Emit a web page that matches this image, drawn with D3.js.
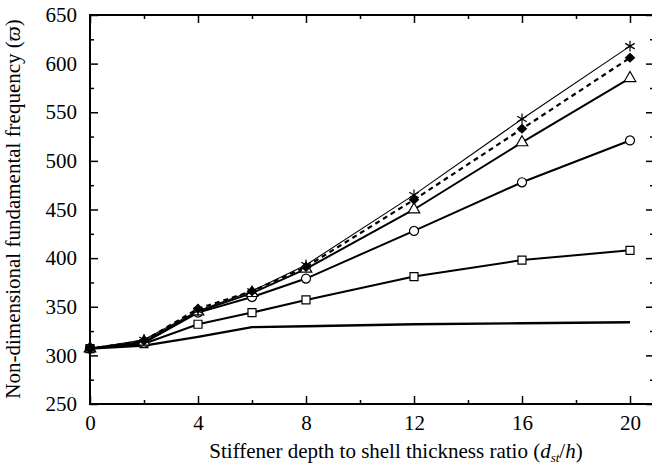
<!DOCTYPE html>
<html><head><meta charset="utf-8">
<script src="https://cdn.jsdelivr.net/npm/d3@7"></script>
<style>body{margin:0;background:#fff}svg{display:block}text{font-family:"Liberation Serif","Times New Roman",serif;fill:#000}</style>
</head><body><svg id="c" width="652" height="474"></svg>
<script>
const xVals = [0, 2, 4, 6, 8, 12, 16, 20];
const plainLine = [307, 310, 319, 329, 330, 332, 333, 334];
const squares   = [307, 312, 332, 344, 357, 381, 398, 408];
const circles   = [307, 313, 344, 360, 379, 428, 478, 521];
const triangles = [307, 314, 345, 364, 389, 450, 519, 585];
const diamonds  = [307, 315, 348, 366, 391, 460, 533, 606];
const asterisks = [307, 316, 346, 366, 393, 465, 543, 618];
const xMajor = [0, 4, 8, 12, 16, 20];
const xMinor = [2, 6, 10, 14, 18];
const yMajor = [250, 300, 350, 400, 450, 500, 550, 600, 650];
const yMinor = [275, 325, 375, 425, 475, 525, 575, 625];

const svg = d3.select("#c");
const L = 90, T = 15, B = 404, R = 654;
const x = d3.scaleLinear().domain([0, 20]).range([L, 630]);
const y = d3.scaleLinear().domain([250, 650]).range([B, T]);

// frame
svg.append("rect").attr("x", L).attr("y", T).attr("width", R - L).attr("height", B - T)
  .attr("fill", "none").attr("stroke", "#000").attr("stroke-width", 2);

function ax(gen, tx, ty, ticks, size, pad, fmt) {
  const g = svg.append("g").attr("transform", `translate(${tx},${ty})`)
    .call(gen.tickValues(ticks).tickSize(size).tickPadding(pad || 0)
      .tickFormat(fmt || (() => "")));
  g.select(".domain").remove();
  g.selectAll(".tick line").attr("stroke", "#000").attr("stroke-width", 1.5);
  g.selectAll("text").style("font-size", "21px").attr("font-family", null);
  return g;
}
ax(d3.axisBottom(x), 0, B, xMajor, -8, 11, d => String(d));
ax(d3.axisBottom(x), 0, B, xMinor, -4);
ax(d3.axisTop(x), 0, T, xMajor, -8);
ax(d3.axisTop(x), 0, T, xMinor, -4);
ax(d3.axisLeft(y), L, 0, yMajor, -8, 13, d => String(d));
ax(d3.axisLeft(y), L, 0, yMinor, -4);
ax(d3.axisRight(y), R, 0, yMajor, -8);
ax(d3.axisRight(y), R, 0, yMinor, -4);

const line = d3.line().x((d, i) => x(xVals[i])).y(d => y(d));
function series(vals, opts) {
  svg.append("path").datum(vals).attr("d", line).attr("fill", "none")
    .attr("stroke", "#000").attr("stroke-width", opts.w)
    .attr("stroke-dasharray", opts.dash || null);
}
series(plainLine, {w: 2.4});
series(squares, {w: 2});
series(circles, {w: 2});
series(triangles, {w: 2});
series(diamonds, {w: 2.2, dash: "5,4"});
series(asterisks, {w: 1.1});

function markers(vals, sym, size, fill) {
  svg.append("g").selectAll("path").data(vals).join("path")
    .attr("transform", (d, i) => `translate(${x(xVals[i])},${y(d)})`)
    .attr("d", d3.symbol().type(sym).size(size))
    .attr("fill", fill).attr("stroke", "#000").attr("stroke-width", 1.2);
}
const asteriskSym = {draw(ctx, size) {
  const r = Math.sqrt(size) / 2;
  for (const a of [90, 30, 150]) {
    const t = a * Math.PI / 180, dx = r * Math.cos(t), dy = r * Math.sin(t);
    ctx.moveTo(-dx, -dy); ctx.lineTo(dx, dy);
  }
}};
const wideDiamond = {draw(ctx, size) {
  const r = Math.sqrt(size) / 2;
  ctx.moveTo(0, -r * 0.95); ctx.lineTo(r, 0); ctx.lineTo(0, r * 0.95); ctx.lineTo(-r, 0); ctx.closePath();
}};
markers(squares, d3.symbolSquare, 64, "#fff");
markers(circles, d3.symbolCircle, 64, "#fff");
markers(triangles, d3.symbolTriangle, 58, "#fff");
markers(diamonds, wideDiamond, 80, "#000");
markers(asterisks, asteriskSym, 120, "none");

// axis titles
const xt = svg.append("text").attr("x", 396).attr("y", 458).attr("text-anchor", "middle")
  .style("font-size", "21px");
xt.append("tspan").text("Stiffener depth to shell thickness ratio (");
xt.append("tspan").attr("font-style", "italic").text("d");
xt.append("tspan").attr("font-style", "italic").style("font-size", "13px").attr("dy", 4).text("st");
xt.append("tspan").attr("dy", -4).text("/");
xt.append("tspan").attr("font-style", "italic").text("h");
xt.append("tspan").text(")");

const yt = svg.append("text").attr("transform", "translate(20,209) rotate(-90)")
  .attr("text-anchor", "middle").style("font-size", "21px");
yt.append("tspan").text("Non-dimensional fundamental frequency (");
yt.append("tspan").attr("font-style", "italic").text("ϖ");
yt.append("tspan").text(")");
</script></body></html>
